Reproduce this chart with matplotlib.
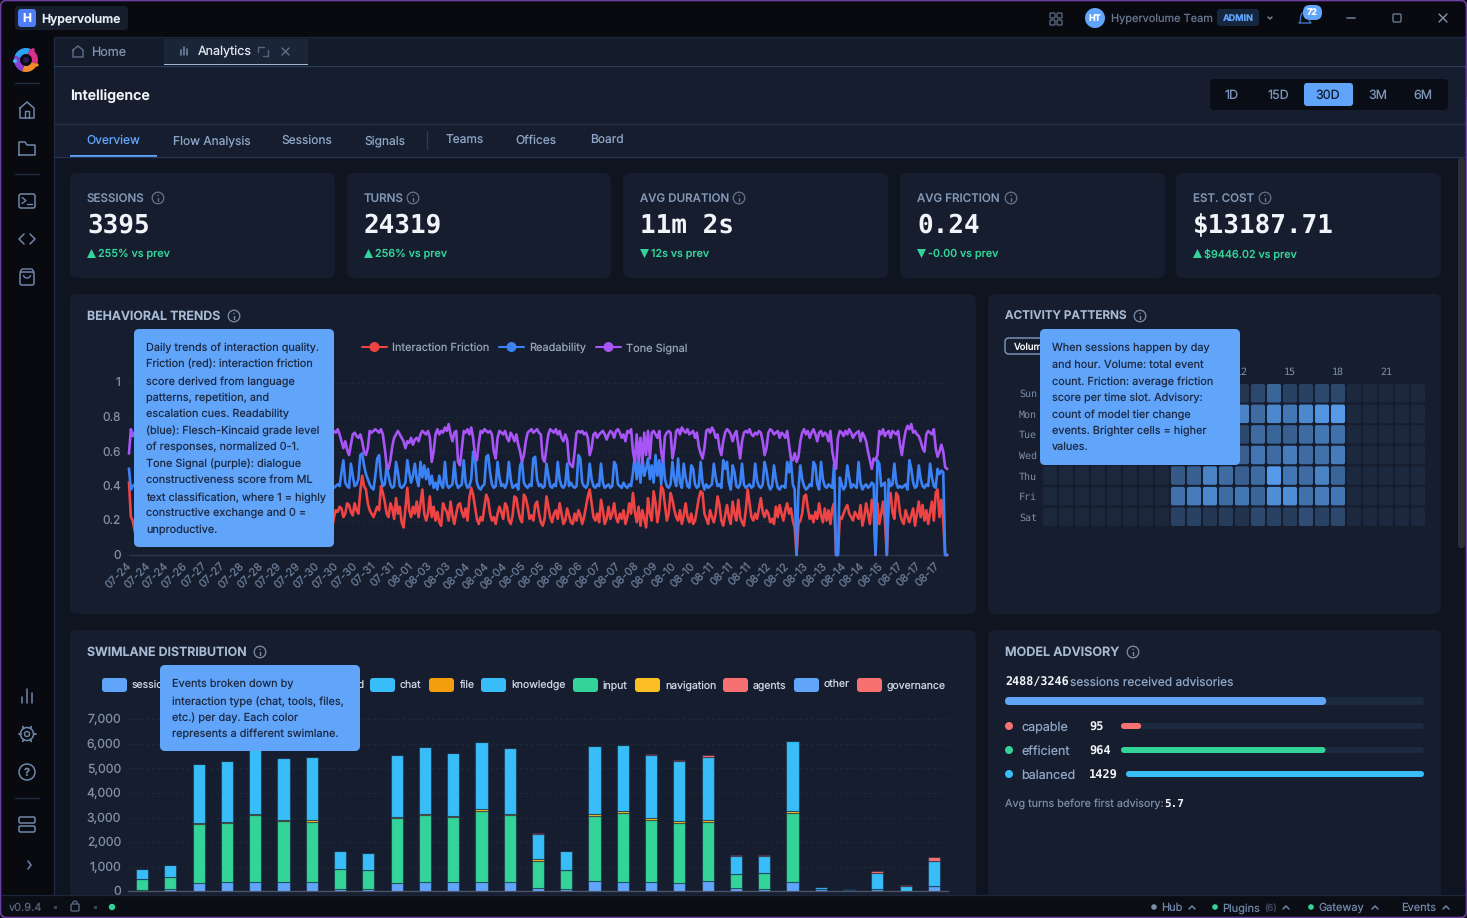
import numpy as np
import matplotlib
matplotlib.use("Agg")
import matplotlib.pyplot as plt
from matplotlib.patches import FancyBboxPatch, Circle, Wedge, Polygon, Rectangle, Arc
from matplotlib.colors import LinearSegmentedColormap
from matplotlib.transforms import ScaledTranslation

plt.rcParams["text.hinting"] = "no_hinting"
W, H = 1467, 918
UI = "Inter"
MONO = "DejaVu Sans Mono"
nan = float("nan")

# ---------------- data ----------------
# the stretch under the tooltip cannot be read, so it stays empty
hidden = [nan] * 104
friction = [.42,.22,.20,.14] + hidden + [
 .15,.22,.26,.25,.28,.27,.22,.24,.30,.29, .25,.23,.30,.26,.24,.37,.46,.40,.38,.30,
 .26,.24,.22,.25,.28,.26,.40,.36,.31,.24, .22,.30,.27,.21,.33,.24,.28,.19,.16,.27,
 .39,.26,.22,.28,.24,.31,.22,.30,.38,.24, .20,.24,.34,.22,.28,.20,.25,.19,.17,.30,
 .27,.25,.20,.31,.23,.18,.24,.29,.30,.25, .22,.27,.20,.33,.39,.35,.28,.21,.18,.22,
 .20,.28,.35,.32,.24,.20,.22,.18,.24,.28, .25,.21,.30,.28,.20,.18,.23,.34,.33,.26,
 .21,.19,.35,.33,.28,.21,.23,.20,.29,.31, .24,.19,.17,.21,.34,.28,.22,.19,.24,.26,
 .21,.30,.24,.18,.20,.27,.23,.19,.18,.24, .20,.26,.23,.18,.22,.28,.34,.38,.30,.22,
 .20,.24,.19,.32,.26,.18,.21,.28,.21,.24, .30,.22,.19,.24,.21,.26,.18,.22,.30,.24,
 .36,.25,.19,.28,.17,.26,.21,.16,.33,.24, .20,.37,.30,.19,.26,.40,.38,.29,.20,.24,
 .36,.32,.26,.22,.20,.26,.18,.23,.30,.22, .19,.24,.18,.20,.26,.33,.37,.36,.24,.21,
 .18,.26,.22,.19,.24,.34,.29,.20,.17,.23, .29,.22,.18,.31,.24,.20,.32,.22,.19,.17,
 .26,.38,.30,.22,.20,.24,.21,.27,.33,.25, .22,.26,.24,.19,.21,.18,.28,.22,.29,.24,
 .20,.26,.30,.24,.27,.20,.16,.00,.18,.20, .24,.34,.35,.27,.21,.23,.19,.25,.21,.30,
 .23,.19,.27,.20,.26,.18,.27,.30,.00,.00, .22,.21,.24,.27,.29,.24,.22,.20,.25,.23,
 .21,.29,.17,.22,.30,.24,.18,.32,.26,.00, .30,.18,.24,.31,.20,.00,.30,.36,.25,.21,
 .36,.34,.24,.20,.18,.26,.22,.19,.23,.27, .17,.24,.31,.22,.29,.20,.26,.18,.25,.31,
 .20,.36,.38,.22,.32,.20,.00,.00]
readability = [.50,.38,.40,.41] + hidden + [
 .40,.39,.40,.41,.40,.48,.55,.42,.40,.39, .53,.46,.40,.41,.44,.58,.59,.52,.47,.44,
 .41,.39,.38,.46,.56,.58,.45,.40,.41,.52, .46,.41,.39,.40,.54,.48,.40,.39,.40,.42,
 .55,.48,.42,.46,.53,.44,.40,.54,.45,.52, .44,.50,.41,.46,.39,.42,.38,.46,.41,.39,
 .54,.41,.39,.40,.41,.54,.42,.39,.40,.41, .55,.42,.39,.40,.44,.60,.56,.42,.39,.38,
 .40,.41,.57,.58,.48,.41,.39,.40,.54,.45, .40,.41,.39,.42,.54,.44,.39,.40,.41,.38,
 .52,.54,.42,.40,.39,.41,.40,.56,.57,.44, .40,.41,.39,.40,.53,.46,.40,.39,.41,.40,
 .54,.44,.40,.39,.41,.53,.40,.42,.40,.39, .40,.58,.56,.42,.40,.39,.41,.53,.44,.40,
 .39,.41,.40,.53,.42,.39,.40,.41,.39,.40, .54,.52,.41,.40,.39,.42,.40,.39,.41,.40,
 .48,.58,.44,.55,.42,.57,.46,.50,.56,.44, .52,.42,.58,.46,.55,.41,.57,.44,.40,.39,
 .41,.54,.44,.40,.56,.42,.39,.53,.45,.40, .39,.52,.50,.41,.39,.40,.54,.42,.38,.41,
 .39,.40,.41,.53,.45,.40,.41,.39,.55,.50, .54,.42,.38,.52,.48,.40,.39,.41,.53,.41,
 .39,.40,.41,.39,.40,.53,.43,.40,.39,.41, .54,.49,.41,.38,.40,.52,.44,.39,.38,.40,
 .40,.39,.54,.48,.55,.41,.38,.00,.38,.52, .44,.40,.38,.39,.41,.40,.54,.52,.41,.38,
 .54,.44,.40,.39,.41,.40,.39,.53,.00,.00, .45,.41,.38,.40,.52,.45,.39,.41,.40,.39,
 .54,.42,.38,.40,.41,.39,.40,.42,.41,.00, .55,.53,.40,.41,.42,.00,.44,.40,.41,.53,
 .42,.39,.40,.39,.40,.41,.38,.55,.50,.42, .39,.40,.52,.44,.40,.39,.41,.40,.53,.45,
 .40,.39,.50,.47,.49,.48,.00,.00]
tone = [.59,.73,.69,.71] + hidden + [
 .70,.72,.71,.73,.70,.66,.62,.66,.61,.58, .64,.70,.71,.69,.68,.70,.66,.60,.58,.62,
 .72,.71,.72,.73,.72,.71,.73,.70,.62,.52, .50,.55,.63,.68,.70,.72,.70,.68,.66,.62,
 .66,.65,.68,.64,.67,.68,.66,.70,.72,.71, .70,.72,.68,.54,.60,.70,.73,.70,.72,.71,
 .74,.72,.76,.70,.66,.71,.72,.54,.52,.62, .72,.71,.73,.70,.74,.68,.58,.55,.65,.72,
 .71,.73,.72,.71,.72,.70,.60,.56,.68,.72, .71,.70,.72,.68,.66,.71,.69,.66,.70,.64,
 .60,.54,.58,.66,.71,.72,.73,.71,.72,.73, .71,.70,.56,.54,.62,.70,.73,.72,.71,.73,
 .70,.72,.68,.66,.70,.67,.54,.52,.51,.60, .71,.72,.71,.72,.70,.71,.68,.58,.62,.70,
 .71,.68,.70,.71,.72,.70,.67,.70,.72,.71, .68,.72,.73,.71,.68,.70,.66,.72,.71,.73,
 .60,.54,.70,.55,.68,.53,.71,.58,.72,.56, .71,.72,.70,.68,.72,.60,.54,.69,.71,.72,
 .71,.56,.62,.72,.73,.70,.74,.72,.71,.73, .70,.71,.72,.68,.71,.63,.59,.56,.62,.72,
 .73,.71,.74,.72,.68,.70,.62,.58,.66,.71, .73,.72,.70,.66,.70,.72,.64,.56,.66,.71,
 .72,.71,.73,.70,.69,.71,.70,.72,.71,.66, .58,.62,.71,.73,.72,.70,.71,.72,.68,.71,
 .70,.68,.72,.64,.56,.55,.59,.54,.57,.66, .71,.73,.70,.72,.68,.71,.73,.70,.66,.71,
 .72,.69,.71,.70,.66,.72,.60,.54,.50,.68, .72,.71,.69,.72,.70,.73,.71,.68,.70,.71,
 .72,.66,.71,.69,.66,.60,.55,.50,.56,.55, .58,.72,.70,.73,.69,.71,.72,.68,.72,.71,
 .70,.72,.64,.58,.66,.72,.75,.73,.76,.71, .72,.70,.69,.66,.62,.60,.70,.72,.71,.70,
 .73,.62,.57,.60,.64,.60,.51,.50]
trend_ticks = ["07-24","07-24","07-24","07-26","07-27","07-27","07-28","07-28","07-29","07-29",
 "07-30","07-30","07-30","07-31","07-31","08-01","08-03","08-03","08-04","08-04","08-04",
 "08-05","08-05","08-06","08-06","08-07","08-07","08-08","08-09","08-10","08-10","08-11",
 "08-11","08-11","08-12","08-12","08-13","08-13","08-14","08-14","08-15","08-17","08-17","08-17"]

session_v = [70,80,350,365,390,365,365,100,100,350,380,365,390,390,150,110,405,365,365,350,430,150,110,390,80,40,110,10,230]
input_v = [420,490,2380,2430,2700,2495,2455,795,755,2620,2715,2660,2880,2705,1100,770,2675,2810,2525,2445,2405,540,650,2810,30,20,0,0,0]
navigation_v = [0,0,60,40,70,55,70,0,0,40,65,45,65,65,50,0,65,80,80,80,50,0,0,55,0,0,0,0,0]
chat_v = [420,490,2390,2470,2720,2495,2575,760,690,2540,2715,2575,2755,2660,1050,770,2785,2690,2595,2445,2580,760,690,2850,50,20,635,220,1020]
governance_v = [0,0,0,0,0,0,0,0,0,0,0,0,0,0,20,10,0,10,20,30,95,30,10,0,0,0,70,10,140]

days = ["Sun","Mon","Tue","Wed","Thu","Fri","Sat"]
hour_ticks = [12, 15, 18, 21]
heat = [
 [.02,.02,.02,.02,.02,.02,.02,.02,.20,.20,.22,.20,.15,.30,.55,.25,.25,.30,.30,.03,.03,.03,.03,.03],
 [.02,.02,.02,.02,.02,.02,.02,.02,.60,.65,.70,.70,.80,.60,.85,.70,.85,.95,1.0,.03,.03,.03,.03,.03],
 [.02,.02,.02,.02,.02,.02,.02,.02,.50,.55,.60,.55,.30,.60,.55,.50,.60,.70,.65,.03,.03,.03,.03,.03],
 [.02,.02,.02,.02,.02,.02,.02,.02,.55,.60,.65,.60,.50,.70,.60,.75,.60,.65,.75,.03,.03,.03,.03,.03],
 [.02,.02,.02,.02,.02,.02,.02,.02,.45,.50,.80,.60,.50,.60,1.0,.70,.60,.80,.55,.03,.03,.03,.03,.03],
 [.02,.02,.02,.02,.02,.02,.02,.02,.65,.75,.85,.60,.70,.55,.90,.90,.65,.75,.70,.03,.03,.03,.03,.03],
 [.02,.02,.02,.02,.02,.02,.02,.02,.25,.25,.15,.20,.12,.30,.25,.20,.35,.25,.30,.03,.03,.03,.03,.03],
]

kpi_labels = ["SESSIONS", "TURNS", "AVG DURATION", "AVG FRICTION", "EST. COST"]
kpi_values = ["3395", "24319", "11m 2s", "0.24", "$13187.71"]
kpi_deltas = ["255% vs prev", "256% vs prev", "12s vs prev", "-0.00 vs prev", "$9446.02 vs prev"]
kpi_up = [True, True, False, False, True]

advisory_total = (2488, 3246)
advisory_names = ["capable", "efficient", "balanced"]
advisory_counts = [95, 964, 1429]
advisory_colors = ["#f87171", "#34d399", "#38bdf8"]

# ---------------- canvas ----------------
fig = plt.figure(figsize=(W/100, H/100), dpi=100, facecolor="#080a10")

def overlay(z):
    a = fig.add_axes([0, 0, 1, 1], zorder=z)
    a.set_xlim(0, W); a.set_ylim(H, 0); a.axis("off")
    a.patch.set_alpha(0)
    return a

bg = overlay(0)
fg = overlay(10)

def T(a, x, y, s, px, c, w="normal", ha="left", fam=UI, **k):
    return a.text(x, y-0.6, s, fontsize=px*0.72, color=c, fontweight=w, ha=ha, va="center_baseline", family=fam, **k)

def R(a, x0, y0, x1, y1, c, r=0, ec="none", lw=0, z=1, alpha=None):
    if r:
        p = FancyBboxPatch((x0, y0), x1-x0, y1-y0, boxstyle=f"round,pad=0,rounding_size={r}",
                           fc=c, ec=ec, lw=lw, zorder=z, alpha=alpha)
    else:
        p = Rectangle((x0, y0), x1-x0, y1-y0, fc=c, ec=ec, lw=lw, zorder=z, alpha=alpha)
    a.add_patch(p)
    return p

def L(a, xs, ys, c, lw=1.1, z=3):
    a.plot(xs, ys, color=c, lw=lw, zorder=z, solid_capstyle="round", solid_joinstyle="round")

def C(a, x, y, r, fc="none", ec="none", lw=0, z=3):
    a.add_patch(Circle((x, y), r, fc=fc, ec=ec, lw=lw, zorder=z))

def info(a, x, y, c="#64748b"):
    C(a, x, y, 5.8, ec=c, lw=0.9)
    L(a, [x, x], [y-0.5, y+2.8], c, 1.0)
    C(a, x, y-2.6, 0.7, fc=c)

PANEL = "#161d2e"
PAGE = "#0e1420"
ICON = "#6f88aa"

# window zones
R(bg, 0, 0, W, H, "#080a10")
R(bg, 54, 37, W-1, 895, PAGE)
R(bg, 54, 37, W-1, 65, "#141b2a")
R(bg, 54, 66, W-1, 157, PANEL)
L(bg, [53.5, 53.5], [37, 895], "#1e2a3e", 1.0)
L(bg, [54, W-1], [36.5, 36.5], "#1c2638", 1.0)
L(bg, [54, W-1], [65.5, 65.5], "#2b3d5a", 1.0)
L(bg, [54, W-1], [123.5, 123.5], "#232f45", 1.0)
L(bg, [54, W-1], [157, 157], "#25344e", 1.0)

# scrollbar
R(bg, 1458, 158, 1465, 548, "#2a3138", r=3)

# title bar
R(bg, 15, 6, 128, 30, "#161e2c", r=4)
R(bg, 18, 9, 36, 27, "#4f7df5", r=3)
T(bg, 27, 18.5, "H", 12, "white", "bold", ha="center")
T(bg, 41, 18, "Hypervolume", 12.2, "#e6edf7", "semibold")
# grid icon
for dx in (0, 7):
    for dy in (0, 7):
        R(bg, 1050+dx, 13+dy, 1055+dx, 18+dy, "none", r=1, ec="#55657d", lw=1)
C(bg, 1095, 18, 10, fc="#60a5fa")
T(bg, 1095, 18.5, "HT", 9, "white", "bold", ha="center")
T(bg, 1111, 18, "Hypervolume Team", 11, "#66778f")
R(bg, 1217, 9, 1259, 26, "#16263f", r=3)
T(bg, 1238, 18, "ADMIN", 9, "#60a5fa", "bold", ha="center")
L(bg, [1268, 1270, 1272], [17, 19, 17], "#7c8ba0", 1.0)
# bell
bg.add_patch(Arc((1305, 18), 9, 12, theta1=180, theta2=360, ec="#3d74c0", lw=1, zorder=3))
L(bg, [1300.5, 1300.5, 1299, 1311, 1309.5, 1309.5], [18, 21, 23, 23, 21, 18], "#3d74c0", 1.0)
R(bg, 1303, 5, 1322, 20, "#60a5fa", r=7, z=4)
T(bg, 1312.5, 12.5, "72", 9, "white", "bold", ha="center", zorder=5)
L(bg, [1347, 1355], [18, 18], "#66778f", 1.2)
R(bg, 1393, 14, 1401, 22, "none", r=1.2, ec="#66778f", lw=1)
L(bg, [1439, 1447], [14, 22], "#8492a6", 1.0)
L(bg, [1447, 1439], [14, 22], "#8492a6", 1.0)

# sidebar
for th1, th2, col in [(200, 290, "#2aa3f5"), (290, 20, "#d9308a"), (20, 110, "#f28a2e"), (110, 200, "#8b3fd9")]:
    bg.add_patch(Wedge((26, 60), 12, th1, th2, width=6, fc=col, ec="none", zorder=3))
C(bg, 26, 60, 3, fc="#2a1f55", z=4)
C(bg, 15, 61, 2, fc="#38bdf8"); C(bg, 37, 65, 1.6, fc="#f28a2e"); C(bg, 33, 50, 1.8, fc="#d9308a")
for y in (83, 174, 798):
    L(bg, [15, 39], [y, y], "#1f2b3f", 1.0)
# home
L(bg, [20, 27, 34, 34, 20, 20], [108, 102, 108, 118, 118, 108], ICON, 1.1)
L(bg, [25, 25, 29, 29], [118, 111, 111, 118], ICON, 1.0)
# folder
L(bg, [19, 19, 25, 27, 35, 35, 19], [155, 142, 142, 145, 145, 155, 155], ICON, 1.1)
# terminal
R(bg, 19, 194, 35, 208, "none", r=2, ec=ICON, lw=1.1)
L(bg, [22, 26, 22], [197.5, 200.5, 203.5], ICON, 1.0); L(bg, [27, 32], [204, 204], ICON, 1.0)
# code
L(bg, [24, 19, 24], [234, 239, 244], ICON, 1.1); L(bg, [30, 35, 30], [234, 239, 244], ICON, 1.1)
# bag
R(bg, 20, 272, 34, 285, "none", r=2, ec=ICON, lw=1.1)
L(bg, [20, 22, 32, 34], [272, 269, 269, 272], ICON, 1.0)
bg.add_patch(Arc((27, 275), 7, 6, theta1=0, theta2=180, ec=ICON, lw=1, zorder=3))
# bars
L(bg, [22, 22], [697, 703], ICON, 1.1); L(bg, [27, 27], [689, 703], ICON, 1.1); L(bg, [32, 32], [693, 703], ICON, 1.1)
# gear
C(bg, 27, 734, 6.5, ec=ICON, lw=1.1); C(bg, 27, 734, 2.5, ec=ICON, lw=1)
for ang in np.deg2rad([0, 60, 120, 180, 240, 300]):
    L(bg, [27+6.5*np.cos(ang), 27+8.5*np.cos(ang)], [734+6.5*np.sin(ang), 734+8.5*np.sin(ang)], ICON, 1.3)
# help
C(bg, 27, 772, 8, ec=ICON, lw=1.1); T(bg, 27, 772.5, "?", 11, ICON, "bold", ha="center")
# server
R(bg, 19, 817, 35, 823, "none", r=1.5, ec=ICON, lw=1.1)
R(bg, 19, 826, 35, 832, "none", r=1.5, ec=ICON, lw=1.1)
L(bg, [28, 31, 28], [861, 865, 869], ICON, 1.1)

# tabs
R(bg, 164, 39, 308, 64, "#1b2538")
R(bg, 164, 63.5, 308, 65, "#a3b6d2", z=2)
L(bg, [73, 78, 83, 83, 73, 73], [50, 46, 50, 57, 57, 50], "#5c6f8d", 1.0)
T(bg, 91, 52, "Home", 12.5, "#7e93b2")
L(bg, [181, 181], [50, 55], "#7a8ca8", 1.1); L(bg, [184, 184], [47, 55], "#7a8ca8", 1.1); L(bg, [187, 187], [49, 55], "#7a8ca8", 1.1)
T(bg, 198, 51, "Analytics", 12.5, "#e2e8f0")
L(bg, [258, 258, 264], [52, 47, 47], "#55657d", 1.0); L(bg, [268, 268, 263], [50, 56, 56], "#55657d", 1.0)
L(bg, [282, 289], [48, 55], "#5f6f87", 1.0); L(bg, [289, 282], [48, 55], "#5f6f87", 1.0)

T(bg, 70, 95, "Intelligence", 14.2, "#f1f5f9", "semibold")
R(bg, 1210, 79, 1448, 110, "#090d15", r=4)
R(bg, 1304, 83, 1353, 106, "#60a5fa", r=3, z=2)
for x, s in zip([1232, 1278, 1328, 1378, 1423], ["1D", "15D", "30D", "3M", "6M"]):
    T(bg, x, 95, s, 12.5, "#0f1a30" if s == "30D" else "#7f97bb", ha="center")

for x, s in zip([86, 173, 281, 364, 446, 515, 590],
                ["Overview", "Flow Analysis", "Sessions", "Signals", "Teams", "Offices", "Board"]):
    T(bg, x, 140, s, 12, "#60a5fa" if s == "Overview" else "#8ea6c8")
L(bg, [426.5, 426.5], [131, 149], "#2b3a54", 1.0)
R(bg, 70, 155, 157, 157, "#60a5fa", z=2)

# KPI cards
card_x = [(70, 335), (347, 611), (623, 888), (900, 1165), (1176, 1441)]
icons_x = [158, 413, 739, 1011, 1265]
for (x0, x1), lab, val, dl, up, ix in zip(card_x, kpi_labels, kpi_values, kpi_deltas, kpi_up, icons_x):
    R(bg, x0, 173, x1, 278, PANEL, r=7)
    T(bg, x0+17, 198.5, lab, 11.6, "#8398b6", "medium")
    info(bg, ix, 198)
    T(bg, x0+17, 223.5, val, 26, "#f1f5f9", "bold", fam=MONO)
    tx = x0+17
    if up:
        bg.add_patch(Polygon([(tx, 258), (tx+9, 258), (tx+4.5, 249)], fc="#34d399", ec="none", zorder=3))
    else:
        bg.add_patch(Polygon([(tx, 249), (tx+9, 249), (tx+4.5, 258)], fc="#34d399", ec="none", zorder=3))
    T(bg, tx+11, 253.5, dl, 10.8, "#34d399", "medium")

# panels
R(bg, 70, 294, 976, 614, PANEL, r=7)
R(bg, 988, 294, 1441, 614, PANEL, r=7)
R(bg, 70, 630, 976, 905, PANEL, r=7)
R(bg, 988, 630, 1441, 905, PANEL, r=7)
for x, y, s, ix, sz in [(87, 316, "BEHAVIORAL TRENDS", 234, 12.4), (1005, 316, "ACTIVITY PATTERNS", 1140, 11.7),
                        (87, 652, "SWIMLANE DISTRIBUTION", 260, 12.4), (1005, 652, "MODEL ADVISORY", 1133, 12.6)]:
    T(bg, x, y, s, sz, "#a9bbd4", "semibold")
    info(bg, ix, y, "#7c8fab")

def ax_at(x0, y0, x1, y1, z=2):
    a = fig.add_axes([x0/W, 1-y1/H, (x1-x0)/W, (y1-y0)/H], zorder=z)
    a.patch.set_alpha(0)
    for s in a.spines.values():
        s.set_visible(False)
    return a

# behavioural trends
LEG = "#94a3b8"
for x0, col, name in [(362, "#ef4444", "Interaction Friction"), (499, "#3b82f6", "Readability"), (596, "#a855f7", "Tone Signal")]:
    L(bg, [x0, x0+25], [347, 347], col, 1.5)
    C(bg, x0+12.5, 347, 5, fc=col)
    T(bg, x0+30, 347.5, name, 11, LEG)

lx = ax_at(129, 382.7, 947, 555)
xi = np.arange(len(friction))
lx.plot(xi, friction, color="#ef4444", lw=1.9, clip_on=False, zorder=3)
lx.plot(xi, readability, color="#3b82f6", lw=1.9, clip_on=False, zorder=4)
lx.plot(xi, tone, color="#a855f7", lw=1.9, clip_on=False, zorder=5)
lx.set_xlim(0, 435); lx.set_ylim(0, 1)
lx.set_yticks([0, .2, .4, .6, .8, 1]); lx.set_yticklabels(["0", "0.2", "0.4", "0.6", "0.8", "1"])
lx.set_xticks(np.arange(0, 431, 10)); lx.set_xticklabels(trend_ticks)
lx.tick_params(axis="y", length=0, pad=5.8, labelsize=12*.72, labelcolor="#8090a8")
lx.tick_params(axis="x", length=0, pad=4, labelsize=11*.72, labelcolor="#6b7d98")
shift = ScaledTranslation(-3/100, 0, fig.dpi_scale_trans)
for t in lx.get_xticklabels():
    t.set_rotation(45); t.set_ha("right"); t.set_rotation_mode("anchor"); t.set_family(UI)
    t.set_transform(t.get_transform() + shift)
for t in lx.get_yticklabels():
    t.set_family(UI)
    t.set_transform(t.get_transform() + ScaledTranslation(0, 0.7/100, fig.dpi_scale_trans))
lx.grid(axis="y", color="#1f2b3a", lw=0.7, ls=(0, (3, 3)))
lx.set_axisbelow(True)
lx.spines["bottom"].set_visible(True); lx.spines["bottom"].set_color("#2a3650"); lx.spines["bottom"].set_linewidth(1)

# activity
R(bg, 1005, 338, 1050, 354, "none", r=4, ec="#7d9cc4", lw=1)
T(bg, 1014, 346.5, "Volume", 9.5, "#f1f5f9", "medium")
hx = ax_at(1042, 384, 1426, 527)
cmap = LinearSegmentedColormap.from_list("h", ["#1a2538", "#5599e8"])
for r, row in enumerate(heat):
    for c_, v in enumerate(row):
        hx.add_patch(FancyBboxPatch((c_-0.44, r-0.45), 0.88, 0.9, boxstyle="round,pad=0,rounding_size=0.12",
                                    mutation_aspect=16/20.6, fc=cmap(v), ec="none"))
hx.set_xlim(-0.5, 23.5); hx.set_ylim(6.5, -0.45)
hx.set_xticks(hour_ticks); hx.set_xticklabels(hour_ticks)
hx.set_yticks(range(7)); hx.set_yticklabels(days)
hx.xaxis.tick_top()
hx.tick_params(axis="x", length=0, pad=5, labelsize=10*.72, labelcolor="#7d90ab")
hx.tick_params(axis="y", length=0, pad=3.6, labelsize=10*.72, labelcolor="#7d90ab")
for t in hx.get_xticklabels() + hx.get_yticklabels():
    t.set_family(MONO)

# swimlane
for x0, col, name in [(102, "#60a5fa", "session"), (370, "#38bdf8", "chat"), (429, "#f59e0b", "file"),
                      (481, "#38bdf8", "knowledge"), (573, "#34d399", "input"), (635, "#fbbf24", "navigation"),
                      (723, "#f87171", "agents"), (794, "#60a5fa", "other"), (857, "#f87171", "governance")]:
    R(bg, x0, 678, x0+25, 692, col, r=3)
    T(bg, x0+30, 685, name, 10.5, "#cbd5e1")
T(bg, 365, 685, "command", 10.5, "#cbd5e1", ha="right")

bx = ax_at(128, 719.3, 948, 891.3)
pos = np.arange(len(session_v))
bottom = np.zeros(len(session_v))
for vals, col in [(session_v, "#60a5fa"), (input_v, "#34d399"), (navigation_v, "#fbbf24"),
                  (chat_v, "#38bdf8"), (governance_v, "#f87171")]:
    bx.bar(pos, vals, width=0.43, bottom=bottom, color=col, edgecolor=(0.09, 0.14, 0.22, 0.55), linewidth=0.8, zorder=3)
    bottom = bottom + np.array(vals)
bx.set_xlim(-0.5, len(session_v)-0.5); bx.set_ylim(0, 7000)
bx.set_yticks(range(0, 7001, 1000)); bx.set_yticklabels([f"{v:,}" for v in range(0, 7001, 1000)])
bx.set_xticks([])
bx.tick_params(axis="y", length=0, pad=5, labelsize=12.3*.72, labelcolor="#8090a8")
for t in bx.get_yticklabels():
    t.set_family(UI)
    t.set_transform(t.get_transform() + ScaledTranslation(0, 0.7/100, fig.dpi_scale_trans))
bx.grid(axis="y", color="#1f2b3a", lw=0.7, ls=(0, (3, 3)))
bx.set_axisbelow(True)
bx.spines["bottom"].set_visible(True); bx.spines["bottom"].set_color("#4b5568"); bx.spines["bottom"].set_linewidth(1)

# model advisory
T(bg, 1005, 682, f"{advisory_total[0]}/{advisory_total[1]}", 11.8, "#f1f5f9", "bold", fam=MONO)
T(bg, 1070, 682, "sessions received advisories", 12, "#8ea6c8")
TR0, TR1 = 1005, 1424
R(bg, TR0, 697, TR1, 705, "#1c2a40", r=4)
R(bg, TR0, 697, TR0+(TR1-TR0)*advisory_total[0]/advisory_total[1], 705, "#60a5fa", r=4, z=2)
mx = max(advisory_counts)
for y, n, v, col, x0 in zip([726, 750, 774], advisory_names, advisory_counts, advisory_colors, [1121, 1121, 1126]):
    C(bg, 1009, y, 4, fc=col)
    T(bg, 1021, y+.5, n, 12.5, "#8ea6c8")
    T(bg, 1089, y+.5, str(v), 12, "#f1f5f9", "bold", fam=MONO)
    R(bg, x0, y-3, 1424, y+3, "#1c2a40", r=3)
    R(bg, x0, y-3, x0+(1424-x0)*v/mx, y+3, col, r=3, z=2)
T(bg, 1005, 803.5, "Avg turns before first advisory:", 10.8, "#7a8ba8")
T(bg, 1164, 803.5, "5.7", 11, "#f1f5f9", "bold", fam=MONO)

# tooltips
TIP_TXT = "#1e2a44"
tips = [
 (134, 329, 334, 547, 146, [347, 364, 380, 397, 413, 430, 446, 463, 479, 496, 512, 529], [
  "Daily trends of interaction quality.", "Friction (red): interaction friction", "score derived from language",
  "patterns, repetition, and", "escalation cues. Readability", "(blue): Flesch-Kincaid grade level",
  "of responses, normalized 0-1.", "Tone Signal (purple): dialogue", "constructiveness score from ML",
  "text classification, where 1 = highly", "constructive exchange and 0 =", "unproductive."]),
 (1040, 329, 1240, 465, 1052, [347, 364, 380, 397, 413, 430, 446], [
  "When sessions happen by day", "and hour. Volume: total event", "count. Friction: average friction",
  "score per time slot. Advisory:", "count of model tier change", "events. Brighter cells = higher", "values."]),
 (160, 665, 360, 751, 172, [683, 700, 716, 733], [
  "Events broken down by", "interaction type (chat, tools, files,", "etc.) per day. Each color",
  "represents a different swimlane."]),
]
for x0, y0, x1, y1, tx, ys, lines in tips:
    R(fg, x0, y0, x1, y1, "#60a5fa", r=5)
    for y, s in zip(ys, lines):
        T(fg, tx, y+.5, s, 10.9, TIP_TXT)

# status bar
R(fg, 2, 895, W-1, 917, "#0a0d14")
L(fg, [2, W-1], [895, 895], "#1c2638", 1.0)
T(fg, 9, 907.5, "v0.9.4", 11, "#55657d")
R(fg, 54, 906, 57, 909, "#3a4658")
R(fg, 71, 904, 79, 911, "none", r=1, ec="#55657d", lw=1)
fg.add_patch(Arc((75, 904), 5, 6, theta1=180, theta2=360, ec="#55657d", lw=1, zorder=3))
R(fg, 94, 906, 97, 909, "#3a4658")
C(fg, 112, 907, 3.2, fc="#34d399")
sb = "#6f86a8"
for dx, s, dc, cx in [(1154, "Hub", "#7c8ba8", 1192), (1215, "Plugins", "#34d399", 1286), (1311, "Gateway", "#34d399", 1375)]:
    C(fg, dx, 907, 2.8, fc=dc)
    T(fg, dx+7.5, 907.5, s, 11, sb)
    L(fg, [cx-3, cx, cx+3], [909, 906, 909], sb, 1.1)
T(fg, 1264, 907.5, "(6)", 9.5, "#3f4d63")
T(fg, 1401, 907.5, "Events", 11, sb)
L(fg, [1443, 1446, 1449], [909, 906, 909], sb, 1.1)

# window border
fg.add_patch(FancyBboxPatch((0.5, 0.5), W-1, H-1, boxstyle="round,pad=0,rounding_size=6",
                            fc="none", ec="#6b3fa0", lw=1.2, zorder=20, clip_on=False))
R(fg, 1465.5, 100, 1466.5, 880, "#7c4dbd", z=20)

fig.savefig("out.png", dpi=100, facecolor=fig.get_facecolor())
